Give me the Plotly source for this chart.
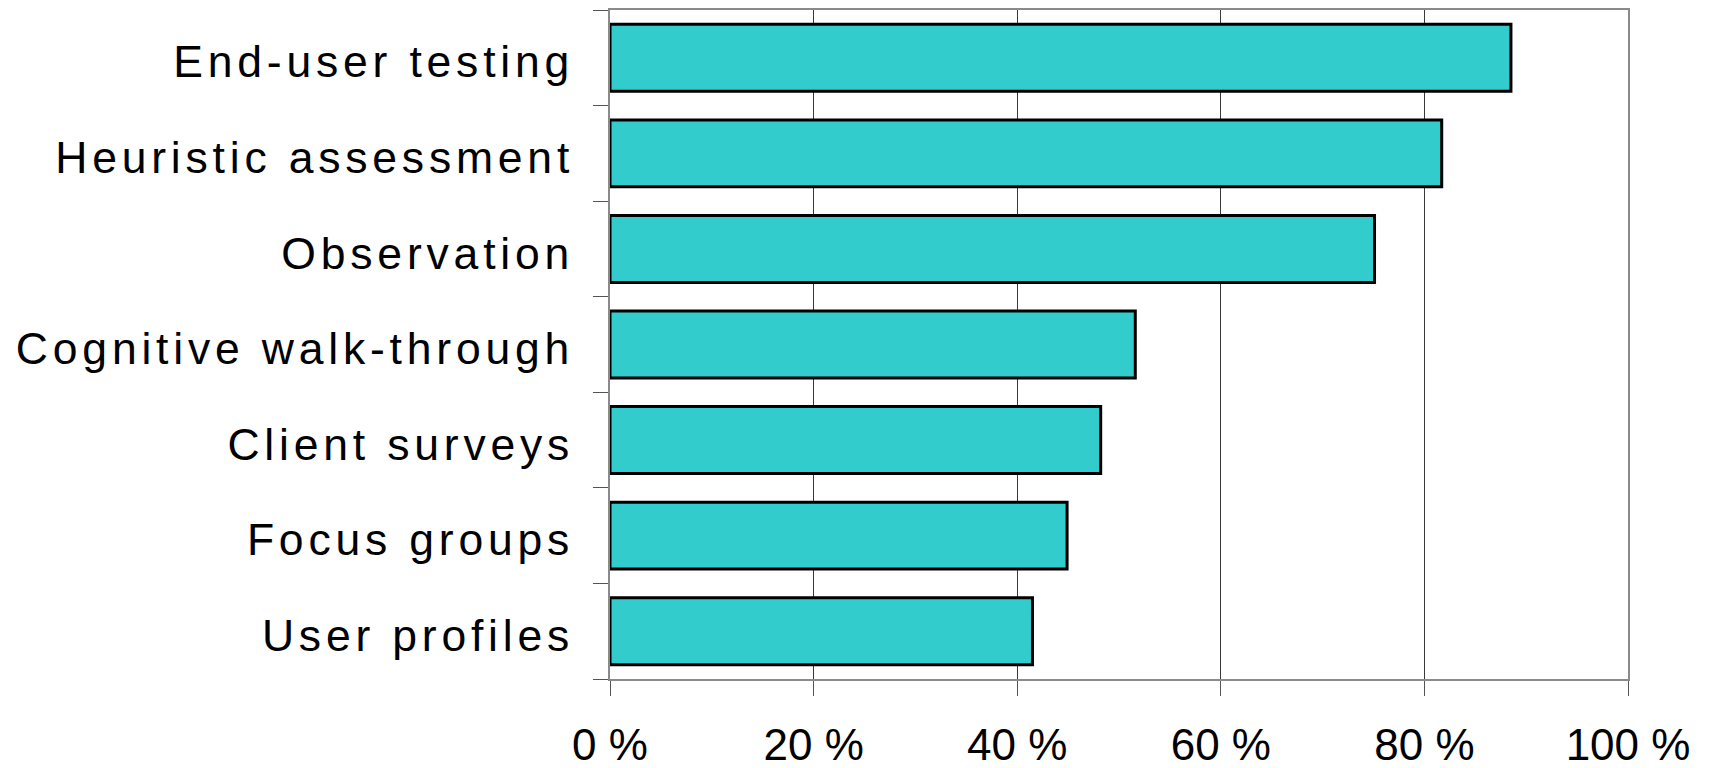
import plotly.graph_objects as go

categories = ["End-user testing", "Heuristic assessment", "Observation",
              "Cognitive walk-through", "Client surveys", "Focus groups", "User profiles"]
values = [88.5, 81.7, 75.1, 51.6, 48.2, 44.9, 41.5]
x_ticks = [0, 20, 40, 60, 80, 100]
x_tick_labels = [f"{v} %" for v in x_ticks]

y_tick_text = [f'<span style="letter-spacing:4.8px;baseline-shift:-4px">{c}</span>' for c in categories]

fig = go.Figure(go.Bar(
    x=values,
    y=categories,
    orientation="h",
    marker=dict(color="#33CCCC", line=dict(color="#000000", width=3)),
    hoverinfo="x+y",
))

fig.update_layout(
    width=1710, height=768,
    margin=dict(l=610, r=82, t=10, b=89),
    paper_bgcolor="white", plot_bgcolor="white",
    bargap=0.3,
    showlegend=False,
    font=dict(family="Liberation Sans, Arial, sans-serif", color="#000000", size=44),
)

fig.update_xaxes(
    range=[0, 100],
    tickvals=x_ticks, ticktext=x_tick_labels,
    showgrid=True, gridcolor="#3a3a3a", gridwidth=1,
    showline=True, linecolor="#8a8a8a", linewidth=2, mirror=True,
    ticks="outside", ticklen=15, tickcolor="#555555", tickwidth=1,
    ticklabelstandoff=11,
    tickfont=dict(size=44),
    zeroline=False,
    automargin=False,
)

fig.update_yaxes(
    categoryorder="array", categoryarray=categories,
    tickvals=categories, ticktext=y_tick_text,
    autorange="reversed",
    tickson="boundaries",
    showgrid=False,
    showline=True, linecolor="#8a8a8a", linewidth=2, mirror=True,
    ticks="outside", ticklen=15, tickcolor="#555555", tickwidth=1,
    ticklabelstandoff=25,
    tickfont=dict(size=44.5),
    automargin=False,
)

fig.write_html("out.html")
